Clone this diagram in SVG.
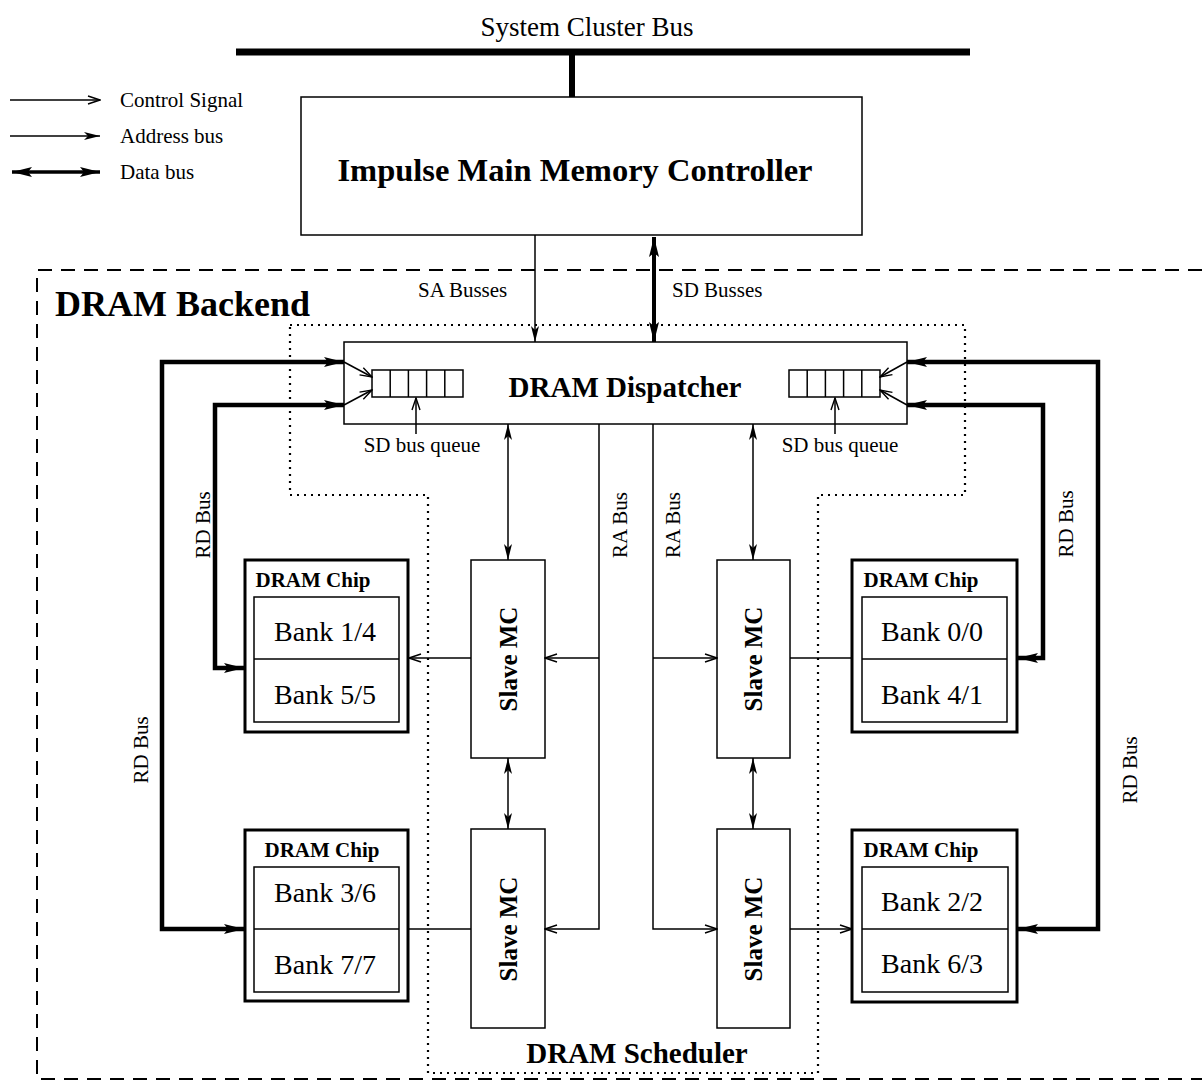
<svg xmlns="http://www.w3.org/2000/svg" width="1202" height="1081" viewBox="0 0 1202 1081">
<style>
text{font-family:"Liberation Serif","Times New Roman",serif;fill:#000}
.b{font-weight:bold}
.box{fill:#fff;stroke:#000;stroke-width:1.5}
.chip{fill:#fff;stroke:#000;stroke-width:3}
.thin{fill:none;stroke:#000;stroke-width:1.5}
.data{fill:none;stroke:#000;stroke-width:4.5}
.lbl{font-size:21px}
.mid{text-anchor:middle}
</style>
<defs>
<marker id="open" markerUnits="userSpaceOnUse" viewBox="0 0 14 10" refX="13" refY="5" markerWidth="14" markerHeight="10" orient="auto-start-reverse">
<path d="M1,1 L13,5 L1,9" fill="none" stroke="#000" stroke-width="1.4"/>
</marker>
<marker id="fill" markerUnits="userSpaceOnUse" viewBox="0 0 16 8" refX="16" refY="4" markerWidth="16" markerHeight="8" orient="auto-start-reverse">
<path d="M0,0 L16,4 L0,8 L4,4 Z" fill="#000"/>
</marker>
<marker id="thick" markerUnits="userSpaceOnUse" viewBox="0 0 20 10" refX="20" refY="5" markerWidth="20" markerHeight="10" orient="auto-start-reverse">
<path d="M0,0 L20,5 L0,10 L4,5 Z" fill="#000"/>
</marker>
</defs>
<rect width="1202" height="1081" fill="#fff"/>

<g id="legend">
<line class="thin" x1="10" y1="100" x2="100" y2="100" marker-end="url(#open)"/>
<line class="thin" x1="10" y1="136" x2="100" y2="136" marker-end="url(#fill)"/>
<line x1="12" y1="172" x2="100" y2="172" stroke="#000" stroke-width="3.5" marker-start="url(#thick)" marker-end="url(#thick)"/>
<text class="lbl" x="120" y="107">Control Signal</text>
<text class="lbl" x="120" y="143">Address bus</text>
<text class="lbl" x="120" y="179">Data bus</text>
</g>

<g id="system-bus">
<line x1="236" y1="52" x2="970" y2="52" stroke="#000" stroke-width="7"/>
<line x1="572" y1="52" x2="572" y2="97" stroke="#000" stroke-width="6"/>
<text x="587" y="36" class="mid" font-size="27">System Cluster Bus</text>
</g>

<g id="controller">
<rect class="box" x="301" y="97" width="561" height="138"/>
<text x="575" y="181" class="b mid" font-size="32.5">Impulse Main Memory Controller</text>
</g>

<g id="dram-backend">
<path d="M1202,270 H37 V1079 H1202" fill="none" stroke="#000" stroke-width="2" stroke-dasharray="14,9"/>
<text x="55" y="316" class="b" font-size="36">DRAM Backend</text>
</g>

<g id="dram-scheduler">
<path d="M290,325 H965 V495 H818 V1073 H428 V495 H290 Z" fill="none" stroke="#000" stroke-width="2.2" stroke-dasharray="2,5"/>
<text x="637" y="1063" class="b mid" font-size="29">DRAM Scheduler</text>
</g>

<g id="dispatcher">
<rect class="box" x="344" y="342" width="563" height="82"/>
<text x="625" y="397" class="b mid" font-size="29">DRAM Dispatcher</text>
<g id="queue-left" class="thin">
<rect x="372" y="370" width="91" height="27"/>
<path d="M390.2,370 V397 M408.4,370 V397 M426.6,370 V397 M444.8,370 V397"/>
</g>
<g id="queue-right" class="thin">
<rect x="789" y="370" width="91" height="27"/>
<path d="M807.2,370 V397 M825.4,370 V397 M843.6,370 V397 M861.8,370 V397"/>
</g>
</g>

<g id="slave-mc-1">
<rect class="box" x="471" y="560" width="74" height="198"/>
<text transform="translate(517,659) rotate(-90)" class="b mid" font-size="25">Slave MC</text>
</g>
<g id="slave-mc-2">
<rect class="box" x="471" y="829" width="74" height="199"/>
<text transform="translate(517,929) rotate(-90)" class="b mid" font-size="25">Slave MC</text>
</g>
<g id="slave-mc-3">
<rect class="box" x="717" y="560" width="73" height="198"/>
<text transform="translate(762,659) rotate(-90)" class="b mid" font-size="25">Slave MC</text>
</g>
<g id="slave-mc-4">
<rect class="box" x="717" y="829" width="73" height="199"/>
<text transform="translate(762,929) rotate(-90)" class="b mid" font-size="25">Slave MC</text>
</g>

<g id="chip-1-4">
<rect class="chip" x="245" y="560" width="163" height="172"/>
<rect class="box" x="254" y="597" width="145" height="125"/>
<line class="thin" x1="254" y1="659" x2="399" y2="659"/>
<text x="313" y="587" class="b mid" font-size="21">DRAM Chip</text>
<text x="325" y="641" class="mid" font-size="28">Bank 1/4</text>
<text x="325" y="704" class="mid" font-size="28">Bank 5/5</text>
</g>
<g id="chip-3-6">
<rect class="chip" x="245" y="830" width="163" height="171"/>
<rect class="box" x="254" y="867" width="145" height="125"/>
<line class="thin" x1="254" y1="929" x2="399" y2="929"/>
<text x="322" y="857" class="b mid" font-size="21">DRAM Chip</text>
<text x="325" y="902" class="mid" font-size="28">Bank 3/6</text>
<text x="325" y="974" class="mid" font-size="28">Bank 7/7</text>
</g>
<g id="chip-0-0">
<rect class="chip" x="852" y="560" width="165" height="172"/>
<rect class="box" x="862" y="597" width="145" height="125"/>
<line class="thin" x1="862" y1="659" x2="1007" y2="659"/>
<text x="921" y="587" class="b mid" font-size="21">DRAM Chip</text>
<text x="932" y="641" class="mid" font-size="28">Bank 0/0</text>
<text x="932" y="704" class="mid" font-size="28">Bank 4/1</text>
</g>
<g id="chip-2-2">
<rect class="chip" x="852" y="830" width="165" height="172"/>
<rect class="box" x="862" y="867" width="146" height="125"/>
<line class="thin" x1="862" y1="929" x2="1008" y2="929"/>
<text x="921" y="857" class="b mid" font-size="21">DRAM Chip</text>
<text x="932" y="911" class="mid" font-size="28">Bank 2/2</text>
<text x="932" y="973" class="mid" font-size="28">Bank 6/3</text>
</g>

<g id="connectors">
<line class="thin" x1="535" y1="235" x2="535" y2="342" marker-end="url(#fill)"/>
<line x1="654" y1="237" x2="654" y2="342" stroke="#000" stroke-width="4" marker-start="url(#thick)" marker-end="url(#thick)"/>
<text class="lbl" x="418" y="297">SA Busses</text>
<text class="lbl" x="672" y="297">SD Busses</text>

<path class="data" d="M344,362 H162 V929 H244" marker-start="url(#thick)" marker-end="url(#thick)"/>
<path class="data" d="M344,405 H215 V668 H244" marker-start="url(#thick)" marker-end="url(#thick)"/>
<path class="data" d="M907,362 H1098 V929 H1018" marker-start="url(#thick)" marker-end="url(#thick)"/>
<path class="data" d="M907,405 H1043 V658 H1018" marker-start="url(#thick)" marker-end="url(#thick)"/>
<text transform="translate(210,525) rotate(-90)" class="lbl mid">RD Bus</text>
<text transform="translate(148,750) rotate(-90)" class="lbl mid">RD Bus</text>
<text transform="translate(1073,524) rotate(-90)" class="lbl mid">RD Bus</text>
<text transform="translate(1137,770) rotate(-90)" class="lbl mid">RD Bus</text>

<line class="thin" x1="344" y1="362" x2="372" y2="377" marker-end="url(#open)"/>
<line class="thin" x1="344" y1="405" x2="372" y2="390" marker-end="url(#open)"/>
<line class="thin" x1="907" y1="362" x2="880" y2="377" marker-end="url(#open)"/>
<line class="thin" x1="907" y1="405" x2="880" y2="390" marker-end="url(#open)"/>
<line class="thin" x1="416" y1="434" x2="416" y2="398" marker-end="url(#open)"/>
<line class="thin" x1="835" y1="434" x2="835" y2="398" marker-end="url(#open)"/>
<text class="lbl mid" x="422" y="452">SD bus queue</text>
<text class="lbl mid" x="840" y="452">SD bus queue</text>

<line class="thin" x1="508" y1="424" x2="508" y2="560" marker-start="url(#fill)" marker-end="url(#fill)"/>
<line class="thin" x1="508" y1="758" x2="508" y2="829" marker-start="url(#fill)" marker-end="url(#fill)"/>
<line class="thin" x1="753" y1="424" x2="753" y2="560" marker-start="url(#fill)" marker-end="url(#fill)"/>
<line class="thin" x1="753" y1="758" x2="753" y2="829" marker-start="url(#fill)" marker-end="url(#fill)"/>

<path class="thin" d="M599,424 V929 H545" marker-end="url(#open)"/>
<path class="thin" d="M599,658 H545" marker-end="url(#open)"/>
<path class="thin" d="M653,424 V929 H717" marker-end="url(#open)"/>
<path class="thin" d="M653,658 H717" marker-end="url(#open)"/>
<text transform="translate(627,525) rotate(-90)" class="lbl mid">RA Bus</text>
<text transform="translate(680,525) rotate(-90)" class="lbl mid">RA Bus</text>

<line class="thin" x1="471" y1="658" x2="409" y2="658" marker-end="url(#open)"/>
<line class="thin" x1="471" y1="929" x2="408" y2="929"/>
<line class="thin" x1="790" y1="658" x2="852" y2="658"/>
<line class="thin" x1="790" y1="929" x2="852" y2="929" marker-end="url(#open)"/>
</g>
</svg>
